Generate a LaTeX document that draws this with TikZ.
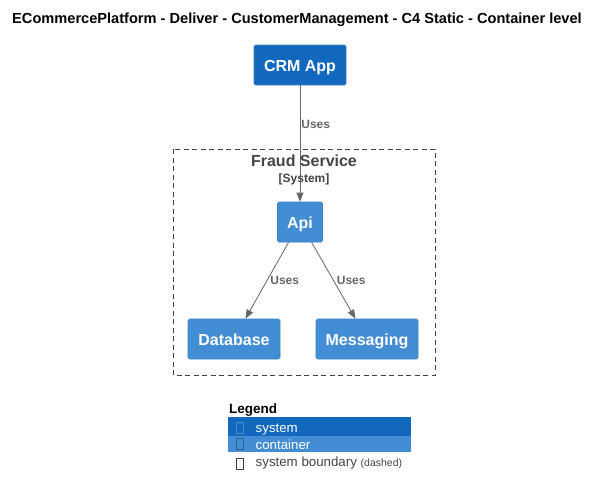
\documentclass[tikz,border=0pt]{standalone}
\usepackage{fontspec}
\setmainfont{Liberation Sans}
\usetikzlibrary{arrows.meta}
\definecolor{sysblue}{HTML}{1168BD}
\definecolor{sysborder}{HTML}{3C7FC0}
\definecolor{contblue}{HTML}{438DD5}
\definecolor{contborder}{HTML}{3C7FC0}
\definecolor{linegray}{HTML}{666666}
\definecolor{textgray}{HTML}{444444}
\tikzset{
  sysbox/.style={draw=sysborder, fill=sysblue, rounded corners=1.5pt, inner sep=0pt, line width=0.6pt,
    text=white, font=\fontsize{16}{18}\selectfont\bfseries, minimum height=40pt, text height=13.5pt, text depth=0pt},
  contbox/.style={draw=contborder, fill=contblue, rounded corners=1.5pt, inner sep=0pt, line width=0.6pt,
    text=white, font=\fontsize{16}{18}\selectfont\bfseries, minimum height=40pt, text height=13.5pt, text depth=0pt},
  rel/.style={draw=linegray, line width=0.8pt, -{Triangle[length=9pt,width=7pt]}},
  rellabel/.style={text=linegray, font=\fontsize{12}{14}\selectfont\bfseries, inner sep=1pt},
  legtext/.style={anchor=base west, font=\fontsize{13.3}{15}\selectfont, inner sep=0pt},
  icon/.style={draw, line width=0.5pt, minimum width=7pt, minimum height=11pt, inner sep=0pt},
}
\begin{document}
\begin{tikzpicture}[x=1pt,y=-1pt]
\useasboundingbox (0,0) rectangle (600,496);
% title
\node[font=\fontsize{14.6}{16}\selectfont\bfseries] (title) at (297,20) {ECommercePlatform - Deliver - CustomerManagement - C4 Static - Container level};
% boundary
\draw[draw=textgray, dash pattern=on 5pt off 3.5pt, line width=0.8pt] (173,149) rectangle (435,375);
\node[text=textgray, font=\fontsize{16}{18}\selectfont\bfseries] (bname) at (304,161) {Fraud Service};
\node[text=textgray, font=\fontsize{12}{14}\selectfont\bfseries] (btype) at (304,179) {[System]};
% nodes
\node[sysbox, minimum width=92pt] (crm) at (300,65) {CRM App};
\node[contbox, minimum width=45pt] (api) at (300,222) {Api};
\node[contbox, minimum width=92pt] (db) at (234,339) {Database};
\node[contbox, minimum width=102pt] (msg) at (367,339) {Messaging};
% relations
\draw[rel] (crm) -- node[rellabel, pos=0.34, anchor=west] {Uses} (api);
\draw[rel] (api) -- node[rellabel, pos=0.5, anchor=west, xshift=2pt] {Uses} (db);
\draw[rel] (api) -- node[rellabel, pos=0.5, anchor=west, xshift=2pt] {Uses} (msg);
% legend
\node[anchor=base west, font=\fontsize{13.5}{15}\selectfont\bfseries, inner sep=0pt] (legend) at (229,413.5) {Legend};
\fill[sysblue] (228,417) rectangle (410.5,435.5);
\fill[contblue] (228,435.5) rectangle (410.5,452);
\node[icon, draw=sysblue!75!white] (i1) at (239.5,427.5) {};
\node[icon, draw=contblue!70!black] (i2) at (239.5,444) {};
\node[icon, draw=textgray] (i3) at (239.5,463.5) {};
\node[legtext, text=white] (l1) at (255.5,432) {system};
\node[legtext, text=white] (l2) at (255.5,449) {container};
\node[legtext, text=textgray] (l3) at (255.5,466.5) {system boundary {\fontsize{10.5}{11}\selectfont(dashed)}};
\end{tikzpicture}
\end{document}
